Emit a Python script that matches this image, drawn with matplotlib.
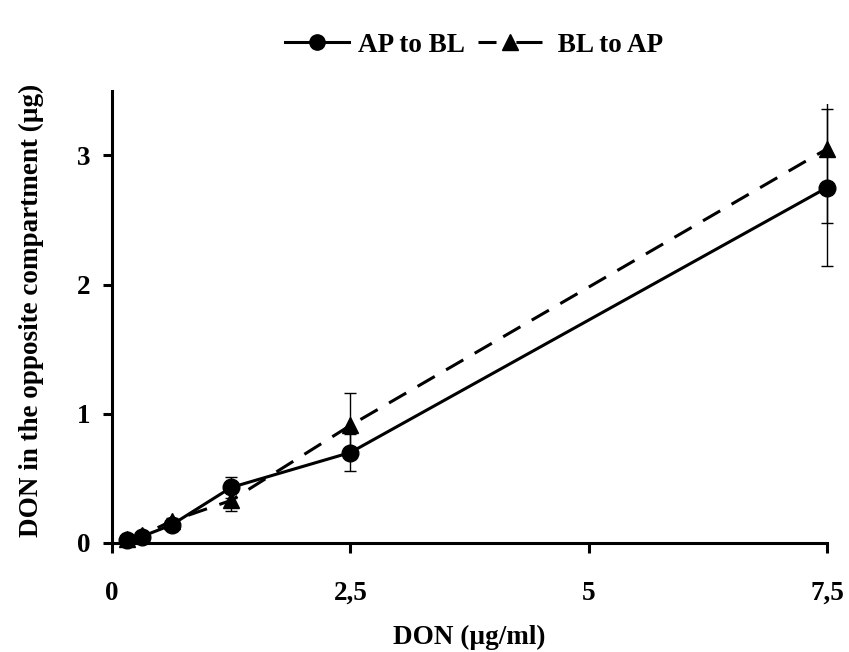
import numpy as np
import matplotlib.pyplot as plt
from matplotlib.lines import Line2D
from matplotlib.patches import Rectangle

# DON concentration applied (ug/ml)
conc = [0.156, 0.3125, 0.625, 1.25, 2.5, 7.5]

# DON found in the opposite compartment (ug)
ap_bl = [0.02, 0.05, 0.14, 0.43, 0.70, 2.75]
ap_bl_err = [0.005, 0.01, 0.02, 0.08, 0.14, 0.61]
bl_ap = [0.03, 0.06, 0.17, 0.33, 0.91, 3.05]
bl_ap_err = [0.005, 0.01, 0.02, 0.08, 0.25, 0.57]

xticks = [0, 2.5, 5, 7.5]
xticklabels = ["0", "2,5", "5", "7,5"]
yticks = [0, 1, 2, 3]

plt.rcParams['font.family'] = ['Liberation Serif', 'DejaVu Serif']
plt.rcParams['font.weight'] = 'bold'
plt.rcParams['font.size'] = 19.5

fig = plt.figure(figsize=(8.49, 6.52), dpi=100)
W, H = 849, 652
ax = fig.add_axes([112 / W, 1 - 543 / H, (827 - 112) / W, (543 - 90.7) / H])

lw = 2.2
series = [
    (ap_bl, ap_bl_err, 'o', '-', '-', 'AP to BL'),
    (bl_ap, bl_ap_err, '^', (0, (6.5, 4.3)), (0, (5.9, 6.5, 11, 2)), ' BL to AP'),
]
handles = []
for vals, err, mk, ls, leg_ls, lab in series:
    cont = ax.errorbar(conc, vals, yerr=err, color='black', lw=lw, marker=mk, ms=12,
                       ls=ls, ecolor='black', elinewidth=1.0, capsize=4.5,
                       capthick=1.0, zorder=3)
    # plot area slightly bigger than the axes, like the original
    clip = Rectangle((-0.05, -0.05), 1.1, 1.02, transform=ax.transAxes)
    for art in cont.get_children():
        art.set_clip_path(clip)
    handles.append(Line2D([], [], color='black', lw=lw, ls=leg_ls, marker=mk, ms=11, label=lab))

ax.set_xlim(0, 7.5)
ax.set_ylim(0, 3.5)
ax.set_xticks(xticks)
ax.set_xticklabels(xticklabels)
ax.set_yticks(yticks)

for s in ['top', 'right']:
    ax.spines[s].set_visible(False)
for s in ['left', 'bottom']:
    ax.spines[s].set_linewidth(2.2)

ax.tick_params(axis='x', direction='out', length=7, width=2.2, pad=20)
ax.tick_params(axis='y', direction='out', length=6.5, width=2.2, pad=9)
for t in ax.get_xticklabels() + ax.get_yticklabels():
    t.set_fontweight('bold')

ax.set_xlabel('DON (µg/ml)', fontweight='bold')
ax.set_ylabel('DON in the opposite compartment (µg)', fontweight='bold')
ax.xaxis.set_label_coords(0.5, -0.181)
ax.yaxis.set_label_coords(-0.095, 0.515)

fig.legend(handles=handles, loc='center', bbox_to_anchor=(474 / W, 1 - 45 / H),
           ncol=2, frameon=False, handlelength=2.35, handletextpad=0.33,
           columnspacing=0.5, prop={'weight': 'bold', 'size': 19.5})

plt.savefig('out.png', dpi=100)
